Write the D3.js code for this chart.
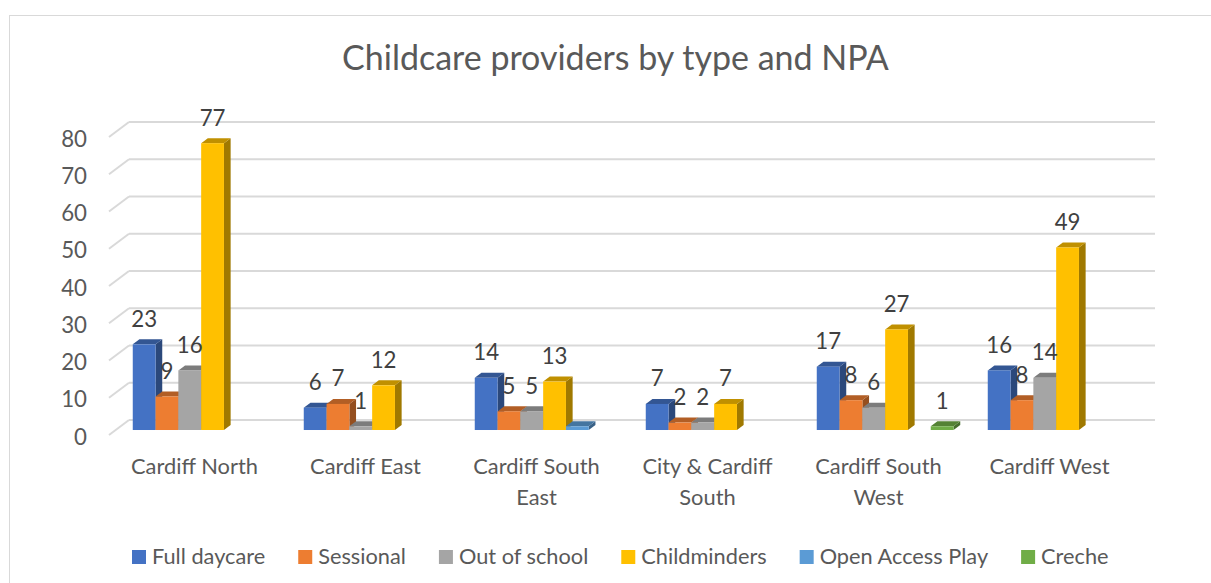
<!DOCTYPE html>
<html>
<head>
<meta charset="utf-8">
<script src="https://cdn.jsdelivr.net/npm/d3@7"></script>
<style>
  body { margin: 0; background: #fff; }
  svg { display: block; }
  text { font-family: Lato, "Open Sans", sans-serif; }
</style>
</head>
<body>
<svg id="canvas" width="1211" height="583"></svg>
<script>
// chart data
const categories = ['Cardiff North', 'Cardiff East', 'Cardiff South East', 'City & Cardiff South', 'Cardiff South West', 'Cardiff West']
const seriesNames = ['Full daycare', 'Sessional', 'Out of school', 'Childminders', 'Open Access Play', 'Creche']
const fullDaycare = [23, 6, 14, 7, 17, 16]
const sessional = [9, 7, 5, 2, 8, 8]
const outOfSchool = [16, 1, 5, 2, 6, 14]
const childminders = [77, 12, 13, 7, 27, 49]
const openAccessPlay = [null, null, 1, null, null, null]
const creche = [null, null, null, null, 1, null]
const showLabels = [true, true, true, true, false, true]
const yTicks = [0, 10, 20, 30, 40, 50, 60, 70, 80]
const title = 'Childcare providers by type and NPA'

const seriesValues = [fullDaycare, sessional, outOfSchool, childminders, openAccessPlay, creche]
const colors = ['#4472C4', '#ED7D31', '#A5A5A5', '#FFC000', '#5B9BD5', '#70AD47']

let canvas = d3.select('#canvas')

// depth of the 3d box: back wall -> front edge
let depth = {dx: -20, dy: 15}
let off = (t) => [depth.dx * t, depth.dy * t]
let barFront = off(0.667)
let barBack = off(0.333)

let x0 = d3.scaleBand().domain(categories).range([129, 1155])
let x1 = d3.scaleBand().domain(seriesNames).range([0, x0.bandwidth()]).paddingOuter(0.75)
let y = d3.scaleLinear().domain([0, 80]).range([420, 122])

// measure helper so fonts land near the original widths
let measure = (str, size) => {
    let t = canvas.append('text').style('font-size', size + 'px').text(str)
    let w = t.node().getComputedTextLength()
    t.remove()
    return w
}
let fit = (str, target) => 100 * target / measure(str, 100)

let titleSize = fit(title, 547)
let labelSize = fit('Cardiff North', 127)
let tickSize = fit('Full daycare', 116)
// legend: 6 swatches (20 each) + 5 gaps of 33 spanning 132..1108
let legendSize = fit(seriesNames.join(''), 976 - 6 * 20 - 5 * 33)

canvas.append('rect')
    .attr('x', 9.5).attr('y', 15.5)
    .attr('width', 1221).attr('height', 620)
    .attr('fill', '#fff')
    .attr('stroke', '#d9d9d9')

canvas.append('text')
    .text(title)
    .attr('x', 615.5)
    .attr('y', 70)
    .attr('text-anchor', 'middle')
    .style('font-size', titleSize + 'px')
    .attr('fill', '#595959')

// gridlines on back wall + side wall
let grid = canvas.append('g')
grid.selectAll('.back')
    .data(yTicks)
    .enter()
    .append('line')
    .attr('x1', x0.range()[0]).attr('x2', x0.range()[1])
    .attr('y1', d => y(d)).attr('y2', d => y(d))
    .attr('stroke', '#d9d9d9')
    .attr('stroke-width', 2)
grid.selectAll('.side')
    .data(yTicks)
    .enter()
    .append('line')
    .attr('x1', x0.range()[0]).attr('x2', x0.range()[0] + depth.dx)
    .attr('y1', d => y(d)).attr('y2', d => y(d) + depth.dy)
    .attr('stroke', '#d9d9d9')
    .attr('stroke-width', 2)

canvas.append('g').selectAll('text')
    .data(yTicks)
    .enter()
    .append('text')
    .text(d => d)
    .attr('x', 87)
    .attr('y', d => y(d) + depth.dy + 1)
    .attr('text-anchor', 'end')
    .attr('dominant-baseline', 'central')
    .style('font-size', tickSize + 'px')
    .attr('fill', '#595959')

// bars
let bars = []
categories.forEach((cat, ci) => {
    seriesNames.forEach((s, si) => {
        let v = seriesValues[si][ci]
        if (v === null) return
        bars.push({cat: cat, series: si, value: v})
    })
})

let shade = (c, k) => d3.rgb(c).darker(k).formatHex()

let barG = canvas.append('g')
bars.forEach((b) => {
    let xl = x0(b.cat) + x1(seriesNames[b.series])
    let xr = xl + x1.bandwidth()
    let yt = y(b.value)
    let yb = y(0)
    let f = barFront, k = barBack
    let c = colors[b.series]
    let pts = (arr) => arr.map(p => p.join(',')).join(' ')
    // right side
    barG.append('polygon')
        .attr('points', pts([[xr + f[0], yt + f[1]], [xr + k[0], yt + k[1]], [xr + k[0], yb + k[1]], [xr + f[0], yb + f[1]]]))
        .attr('fill', shade(c, 1.3))
    // top
    barG.append('polygon')
        .attr('points', pts([[xl + f[0], yt + f[1]], [xr + f[0], yt + f[1]], [xr + k[0], yt + k[1]], [xl + k[0], yt + k[1]]]))
        .attr('fill', shade(c, 0.8))
    // front
    barG.append('rect')
        .attr('x', xl + f[0])
        .attr('y', yt + f[1])
        .attr('width', x1.bandwidth())
        .attr('height', yb - yt)
        .attr('fill', c)
})

canvas.append('g').selectAll('text')
    .data(bars.filter(b => showLabels[b.series]))
    .enter()
    .append('text')
    .text(b => b.value)
    .attr('x', b => x0(b.cat) + x1(seriesNames[b.series]) + x1.bandwidth() / 2 + barFront[0])
    .attr('y', b => y(b.value) + barFront[1] - 17.5)
    .attr('text-anchor', 'middle')
    .style('font-size', tickSize + 'px')
    .attr('fill', '#404040')

// category labels, wrapped to two lines when too wide
let catG = canvas.append('g')
categories.forEach((cat) => {
    let words = cat.split(' ')
    let lines = [words[0]]
    words.slice(1).forEach(w => {
        let tryLine = lines[lines.length - 1] + ' ' + w
        if (measure(tryLine, labelSize) > 150) lines.push(w)
        else lines[lines.length - 1] = tryLine
    })
    lines.forEach((ln, i) => {
        catG.append('text')
            .text(ln)
            .attr('x', x0(cat) + x0.bandwidth() / 2 + depth.dx)
            .attr('y', 473.5 + i * 31)
            .attr('text-anchor', 'middle')
            .style('font-size', labelSize + 'px')
            .attr('fill', '#595959')
    })
})

// legend
let legend = canvas.append('g')
let lx = 132
seriesNames.forEach((s, i) => {
    legend.append('rect')
        .attr('x', lx).attr('y', 550)
        .attr('width', 14).attr('height', 14)
        .attr('fill', colors[i])
    let t = legend.append('text')
        .text(s)
        .attr('x', lx + 20)
        .attr('y', 564)
        .style('font-size', legendSize + 'px')
        .attr('fill', '#595959')
    lx += 20 + t.node().getComputedTextLength() + 33
})
</script>
</body>
</html>
